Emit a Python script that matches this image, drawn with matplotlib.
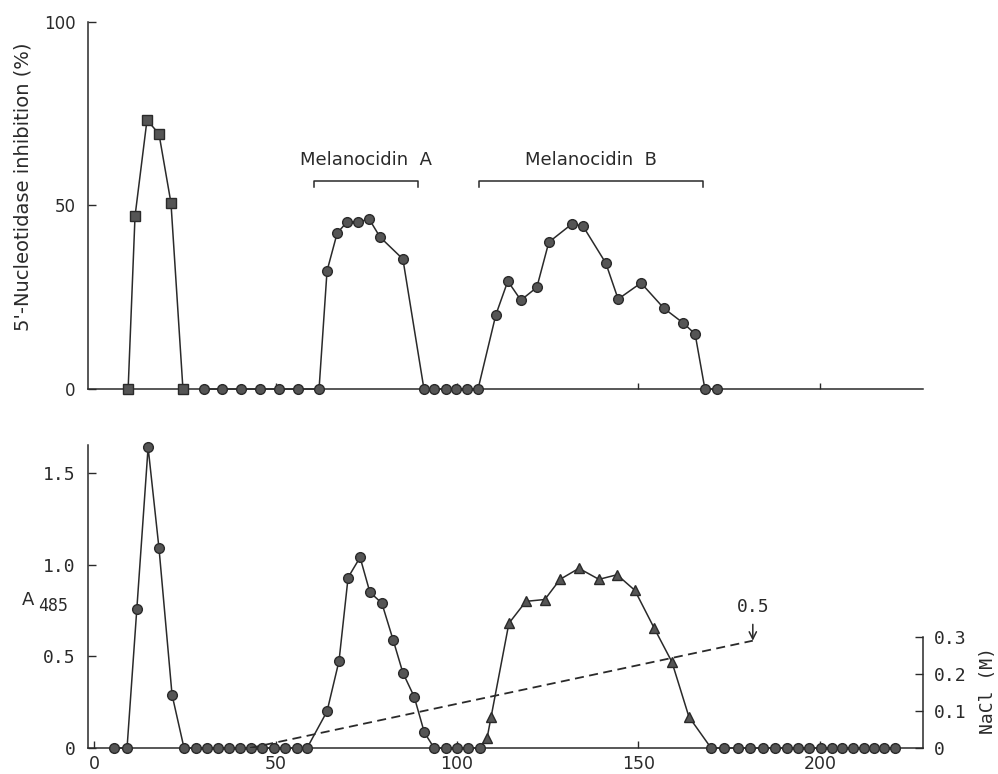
import matplotlib.pyplot as plt

# ---- top panel: 5'-nucleotidase inhibition (%) vs fraction number
sq_x = [9.4, 11.3, 14.6, 17.9, 21.2, 24.5]
sq_y = [0, 47.1, 73.3, 69.5, 50.7, 0]

top_x = [30.3, 35.3, 40.5, 45.7, 50.9, 56.2, 62,
         64.2, 67, 69.7, 72.7, 75.8, 78.8, 85.1,
         90.9, 93.7, 97, 99.7, 102.7, 105.8,
         110.7, 114, 117.6, 122, 125.3, 131.7, 134.7, 141, 144.4,
         150.7, 157, 162.3, 165.6, 168.3, 171.6]
top_y = [0, 0, 0, 0, 0, 0, 0,
         32.2, 42.5, 45.5, 45.5, 46.3, 41.4, 35.4,
         0, 0, 0, 0, 0, 0,
         20.2, 29.4, 24.2, 27.7, 40, 45, 44.4, 34.3, 24.5,
         28.9, 22, 18, 15, 0, 0]

# brackets marking pooled fractions
brackets = {"Melanocidin  A": (60.6, 89.3), "Melanocidin  B": (106.1, 167.8)}

# ---- bottom panel: A485
c1_x = [5.5, 9.1, 11.8, 14.9, 17.9, 21.5,
        24.8, 28, 31, 34.2, 37.2, 40.2, 43.3, 46.3, 49.6, 52.6, 55.9, 58.7,
        64.2, 67.5, 70, 73.3, 76, 79.3, 82.4, 85.1, 88.2, 91,
        93.7, 97, 100, 103, 106.3]
c1_y = [0, 0, 0.76, 1.64, 1.09, 0.29,
        0, 0, 0, 0, 0, 0, 0, 0, 0, 0, 0, 0,
        0.20, 0.475, 0.93, 1.04, 0.85, 0.79, 0.59, 0.41, 0.28, 0.085,
        0, 0, 0, 0, 0]

tri_x = [108.3, 109.4, 114.3, 119, 124.2, 128.4, 133.6, 139.1, 144.1,
         149, 154.3, 159.2, 163.9]
tri_y = [0.055, 0.17, 0.68, 0.80, 0.81, 0.92, 0.98, 0.92, 0.945,
         0.86, 0.655, 0.47, 0.17]

c2_x = [170, 173.6, 177.5, 180.7, 184.2, 187.6, 190.8, 194, 197, 200.2,
        203.2, 206.2, 209.1, 212.1, 214.9, 217.6, 220.8]
c2_y = [0] * len(c2_x)

# NaCl gradient (M)
nacl_x = [43, 181.5]
nacl_y = [0, 0.29]

ink = "#2a2a2a"
mfc = "#555555"
mono = "DejaVu Sans Mono"

fig = plt.figure(figsize=(9.98, 7.74), dpi=100)
ax1 = fig.add_axes([0.0882, 0.4974, 0.8367, 0.4742])
ax2 = fig.add_axes([0.0882, 0.0336, 0.8367, 0.3915])

xlim = (-1.65, 228.4)

# top panel
ax1.plot(sq_x, sq_y, color=ink, lw=1.1, marker="s", ms=6.5,
         mfc=mfc, mec=ink, clip_on=False, zorder=3)
ax1.plot(top_x, top_y, color=ink, lw=1.1, marker="o", ms=7,
         mfc=mfc, mec=ink, clip_on=False, zorder=3)
for name, (x0, x1) in brackets.items():
    ax1.plot([x0, x0, x1, x1], [55, 56.7, 56.7, 55], color=ink, lw=1.1)
    ax1.text((x0 + x1) / 2, 62.5, name, ha="center", va="center",
             fontsize=13, color=ink)

ax1.set_xlim(*xlim)
ax1.set_ylim(0, 100)
ax1.set_yticks([0, 50, 100])
ax1.set_xticks([50, 100, 150, 200])
ax1.tick_params(axis="x", direction="in", length=4, width=1, labelbottom=False, color=ink)
ax1.tick_params(axis="y", direction="in", length=6, width=1, pad=9,
                labelsize=12, colors=ink)
for s in ["top", "right"]:
    ax1.spines[s].set_visible(False)
for s in ["left", "bottom"]:
    ax1.spines[s].set_color(ink)
    ax1.spines[s].set_linewidth(1.1)

fig.text(0.023, 1 - 187 / 774, "5'-Nucleotidase inhibition (%)",
         rotation=90, ha="center", va="center", fontsize=14, color=ink)

# bottom panel
line_x = c1_x + tri_x + c2_x
line_y = c1_y + tri_y + c2_y
ax2.plot(line_x, line_y, color=ink, lw=1.1, clip_on=False, zorder=2)
ax2.plot(c1_x, c1_y, ls="none", marker="o", ms=7, mfc=mfc, mec=ink,
         clip_on=False, zorder=3)
ax2.plot(c2_x, c2_y, ls="none", marker="o", ms=7, mfc=mfc, mec=ink,
         clip_on=False, zorder=3)
ax2.plot(tri_x, tri_y, ls="none", marker="^", ms=7, mfc=mfc, mec=ink,
         clip_on=False, zorder=3)

ax2.set_xlim(*xlim)
ax2.set_ylim(0, 1.653)
ax2.set_xticks([0, 50, 100, 150, 200])
ax2.set_yticks([0, 0.5, 1.0, 1.5])
ax2.set_yticklabels(["0", "0.5", "1.0", "1.5"])
ax2.tick_params(axis="x", direction="in", length=5, width=1, pad=5,
                labelsize=12.5, colors=ink)
ax2.tick_params(axis="y", direction="in", length=6, width=1, pad=9,
                labelsize=13, colors=ink, labelfontfamily=mono)
for s in ["top", "right"]:
    ax2.spines[s].set_visible(False)
for s in ["left", "bottom"]:
    ax2.spines[s].set_color(ink)
    ax2.spines[s].set_linewidth(1.1)

fig.text(22 / 998, 1 - 600 / 774, "A", ha="left", va="center",
         fontsize=13, color=ink)
fig.text(38 / 998, 1 - 606 / 774, "485", ha="left", va="center",
         fontsize=12, family=mono, color=ink)

# NaCl axis on the right
ax3 = ax2.twinx()
ax3.set_ylim(0, 0.819)
ax3.plot(nacl_x, nacl_y, color=ink, lw=1.3, ls=(0, (5, 3)))
ax3.annotate("0.5", xy=(181.5, 0.29), xytext=(181.5, 0.381),
             ha="center", va="center", fontsize=13, family=mono, color=ink,
             arrowprops=dict(arrowstyle="->", color=ink, lw=1.1,
                             shrinkA=4, shrinkB=0))
ax3.set_yticks([0, 0.1, 0.2, 0.3])
ax3.set_yticklabels(["0", "0.1", "0.2", "0.3"])
ax3.tick_params(axis="y", direction="in", length=6, width=1, pad=8,
                labelsize=13, colors=ink, labelfontfamily=mono)
for s in ["top", "left", "bottom"]:
    ax3.spines[s].set_visible(False)
ax3.spines["right"].set_bounds(0, 0.3)
ax3.spines["right"].set_color(ink)
ax3.spines["right"].set_linewidth(1.1)
fig.text(988 / 998, 1 - 690 / 774, "NaCl (M)", rotation=90,
         ha="center", va="center", fontsize=13, family=mono, color=ink)

fig.savefig("out.png", dpi=100)
